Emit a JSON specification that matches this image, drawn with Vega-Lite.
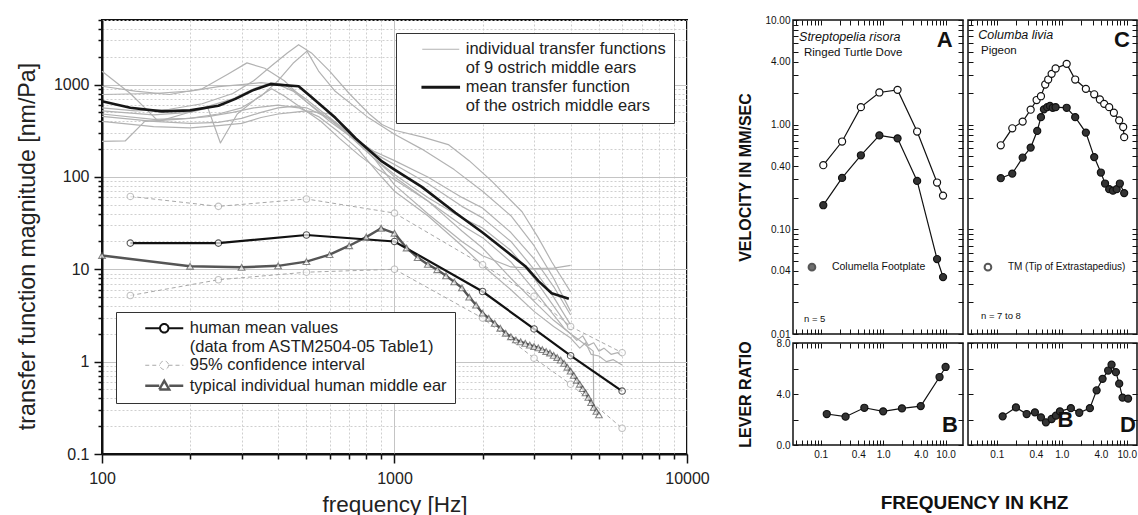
{
"$schema": "https://vega.github.io/schema/vega-lite/v6.json",
"background": "white",
"padding": {"left": 13, "top": 14, "right": 0, "bottom": 0},
"config": {"font": "Liberation Sans", "view": {"stroke": "#111", "strokeWidth": 1.5}, "axis": {"labelFont": "Liberation Sans", "titleFont": "Liberation Sans"}, "legend": {"labelFont": "Liberation Sans"}},
"datasets": {
"ostrich": [
{"id":"L1","g":"ind","f":100,"v":560},{"id":"L1","g":"ind","f":130,"v":520},{"id":"L1","g":"ind","f":170,"v":540},{"id":"L1","g":"ind","f":220,"v":620},{"id":"L1","g":"ind","f":280,"v":800},{"id":"L1","g":"ind","f":330,"v":1100},{"id":"L1","g":"ind","f":380,"v":1600},{"id":"L1","g":"ind","f":430,"v":2200},{"id":"L1","g":"ind","f":470,"v":2700},{"id":"L1","g":"ind","f":520,"v":2200},{"id":"L1","g":"ind","f":600,"v":1400},{"id":"L1","g":"ind","f":700,"v":800},{"id":"L1","g":"ind","f":820,"v":480},{"id":"L1","g":"ind","f":906,"v":369},{"id":"L1","g":"ind","f":1000,"v":320},{"id":"L1","g":"ind","f":1250,"v":270},{"id":"L1","g":"ind","f":1527,"v":224},{"id":"L1","g":"ind","f":1800,"v":150},{"id":"L1","g":"ind","f":2150,"v":90},{"id":"L1","g":"ind","f":2730,"v":42},{"id":"L1","g":"ind","f":3100,"v":22},{"id":"L1","g":"ind","f":3450,"v":12},{"id":"L1","g":"ind","f":4000,"v":5.7},
{"id":"L2","g":"ind","f":100,"v":480},{"id":"L2","g":"ind","f":150,"v":420},{"id":"L2","g":"ind","f":200,"v":430},{"id":"L2","g":"ind","f":250,"v":480},{"id":"L2","g":"ind","f":300,"v":560},{"id":"L2","g":"ind","f":350,"v":750},{"id":"L2","g":"ind","f":400,"v":1100},{"id":"L2","g":"ind","f":450,"v":1700},{"id":"L2","g":"ind","f":502,"v":2300},{"id":"L2","g":"ind","f":550,"v":1400},{"id":"L2","g":"ind","f":627,"v":846},{"id":"L2","g":"ind","f":816,"v":436},{"id":"L2","g":"ind","f":1000,"v":290},{"id":"L2","g":"ind","f":1240,"v":200},{"id":"L2","g":"ind","f":1600,"v":120},{"id":"L2","g":"ind","f":2000,"v":70},{"id":"L2","g":"ind","f":2500,"v":38},{"id":"L2","g":"ind","f":3000,"v":18},{"id":"L2","g":"ind","f":3500,"v":8},{"id":"L2","g":"ind","f":4000,"v":3.5},
{"id":"L3","g":"ind","f":100,"v":958},{"id":"L3","g":"ind","f":130,"v":850},{"id":"L3","g":"ind","f":170,"v":780},{"id":"L3","g":"ind","f":220,"v":900},{"id":"L3","g":"ind","f":270,"v":1300},{"id":"L3","g":"ind","f":313,"v":1717},{"id":"L3","g":"ind","f":360,"v":1500},{"id":"L3","g":"ind","f":420,"v":1100},{"id":"L3","g":"ind","f":500,"v":650},{"id":"L3","g":"ind","f":600,"v":400},{"id":"L3","g":"ind","f":700,"v":280},{"id":"L3","g":"ind","f":850,"v":190},{"id":"L3","g":"ind","f":1000,"v":150},{"id":"L3","g":"ind","f":1300,"v":100},{"id":"L3","g":"ind","f":1700,"v":60},{"id":"L3","g":"ind","f":2000,"v":46},{"id":"L3","g":"ind","f":2500,"v":25},{"id":"L3","g":"ind","f":3000,"v":13},{"id":"L3","g":"ind","f":3500,"v":6.5},{"id":"L3","g":"ind","f":4000,"v":3.2},
{"id":"L4","g":"ind","f":100,"v":1395},{"id":"L4","g":"ind","f":125,"v":800},{"id":"L4","g":"ind","f":156,"v":400},{"id":"L4","g":"ind","f":190,"v":480},{"id":"L4","g":"ind","f":230,"v":580},{"id":"L4","g":"ind","f":280,"v":700},{"id":"L4","g":"ind","f":330,"v":900},{"id":"L4","g":"ind","f":380,"v":1050},{"id":"L4","g":"ind","f":420,"v":1000},{"id":"L4","g":"ind","f":480,"v":760},{"id":"L4","g":"ind","f":560,"v":520},{"id":"L4","g":"ind","f":650,"v":360},{"id":"L4","g":"ind","f":750,"v":250},{"id":"L4","g":"ind","f":880,"v":170},{"id":"L4","g":"ind","f":1000,"v":136},{"id":"L4","g":"ind","f":1300,"v":85},{"id":"L4","g":"ind","f":1700,"v":48},{"id":"L4","g":"ind","f":2000,"v":36},{"id":"L4","g":"ind","f":2500,"v":20},{"id":"L4","g":"ind","f":3000,"v":10},{"id":"L4","g":"ind","f":3500,"v":5},{"id":"L4","g":"ind","f":4000,"v":2.5},
{"id":"L5","g":"ind","f":100,"v":520},{"id":"L5","g":"ind","f":150,"v":470},{"id":"L5","g":"ind","f":200,"v":500},{"id":"L5","g":"ind","f":230,"v":560},{"id":"L5","g":"ind","f":254,"v":233},{"id":"L5","g":"ind","f":290,"v":480},{"id":"L5","g":"ind","f":340,"v":720},{"id":"L5","g":"ind","f":380,"v":900},{"id":"L5","g":"ind","f":420,"v":750},{"id":"L5","g":"ind","f":480,"v":560},{"id":"L5","g":"ind","f":560,"v":400},{"id":"L5","g":"ind","f":650,"v":260},{"id":"L5","g":"ind","f":760,"v":170},{"id":"L5","g":"ind","f":880,"v":120},{"id":"L5","g":"ind","f":1000,"v":94},{"id":"L5","g":"ind","f":1300,"v":55},{"id":"L5","g":"ind","f":1700,"v":30},{"id":"L5","g":"ind","f":2000,"v":22},{"id":"L5","g":"ind","f":2500,"v":12},{"id":"L5","g":"ind","f":3000,"v":6},{"id":"L5","g":"ind","f":3500,"v":3.2},{"id":"L5","g":"ind","f":3800,"v":2.3},{"id":"L5","g":"ind","f":4000,"v":2.0},{"id":"L5","g":"ind","f":4200,"v":1.7},{"id":"L5","g":"ind","f":4400,"v":1.9},{"id":"L5","g":"ind","f":4600,"v":1.5},{"id":"L5","g":"ind","f":4800,"v":1.6},{"id":"L5","g":"ind","f":5000,"v":1.3},{"id":"L5","g":"ind","f":5200,"v":1.4},{"id":"L5","g":"ind","f":5500,"v":1.2},{"id":"L5","g":"ind","f":5800,"v":1.25},{"id":"L5","g":"ind","f":6000,"v":1.15},
{"id":"L6","g":"ind","f":100,"v":243},{"id":"L6","g":"ind","f":120,"v":245},{"id":"L6","g":"ind","f":140,"v":400},{"id":"L6","g":"ind","f":180,"v":420},{"id":"L6","g":"ind","f":230,"v":450},{"id":"L6","g":"ind","f":280,"v":500},{"id":"L6","g":"ind","f":330,"v":560},{"id":"L6","g":"ind","f":400,"v":600},{"id":"L6","g":"ind","f":470,"v":560},{"id":"L6","g":"ind","f":550,"v":450},{"id":"L6","g":"ind","f":650,"v":300},{"id":"L6","g":"ind","f":750,"v":200},{"id":"L6","g":"ind","f":880,"v":110},{"id":"L6","g":"ind","f":1000,"v":70},{"id":"L6","g":"ind","f":1300,"v":38},{"id":"L6","g":"ind","f":1700,"v":18},{"id":"L6","g":"ind","f":2000,"v":11},{"id":"L6","g":"ind","f":2500,"v":6},{"id":"L6","g":"ind","f":3000,"v":3.5},{"id":"L6","g":"ind","f":3500,"v":2.4},{"id":"L6","g":"ind","f":4000,"v":1.8},{"id":"L6","g":"ind","f":4300,"v":1.4},{"id":"L6","g":"ind","f":4500,"v":1.6},{"id":"L6","g":"ind","f":4700,"v":1.2},{"id":"L6","g":"ind","f":5000,"v":1.15},{"id":"L6","g":"ind","f":5300,"v":1.0},{"id":"L6","g":"ind","f":5600,"v":1.05},{"id":"L6","g":"ind","f":6000,"v":0.92},
{"id":"L7","g":"ind","f":100,"v":780},{"id":"L7","g":"ind","f":150,"v":800},{"id":"L7","g":"ind","f":200,"v":850},{"id":"L7","g":"ind","f":250,"v":950},{"id":"L7","g":"ind","f":300,"v":1000},{"id":"L7","g":"ind","f":350,"v":1050},{"id":"L7","g":"ind","f":400,"v":1000},{"id":"L7","g":"ind","f":450,"v":850},{"id":"L7","g":"ind","f":500,"v":650},{"id":"L7","g":"ind","f":600,"v":420},{"id":"L7","g":"ind","f":700,"v":280},{"id":"L7","g":"ind","f":850,"v":160},{"id":"L7","g":"ind","f":1000,"v":106},{"id":"L7","g":"ind","f":1300,"v":60},{"id":"L7","g":"ind","f":1700,"v":36},{"id":"L7","g":"ind","f":2000,"v":28},{"id":"L7","g":"ind","f":2500,"v":16},{"id":"L7","g":"ind","f":3000,"v":8},{"id":"L7","g":"ind","f":3500,"v":4},{"id":"L7","g":"ind","f":4000,"v":2.2},
{"id":"L8","g":"ind","f":100,"v":453},{"id":"L8","g":"ind","f":150,"v":400},{"id":"L8","g":"ind","f":200,"v":380},{"id":"L8","g":"ind","f":250,"v":390},{"id":"L8","g":"ind","f":300,"v":430},{"id":"L8","g":"ind","f":350,"v":500},{"id":"L8","g":"ind","f":400,"v":560},{"id":"L8","g":"ind","f":450,"v":580},{"id":"L8","g":"ind","f":500,"v":560},{"id":"L8","g":"ind","f":600,"v":430},{"id":"L8","g":"ind","f":700,"v":290},{"id":"L8","g":"ind","f":850,"v":160},{"id":"L8","g":"ind","f":1000,"v":100},{"id":"L8","g":"ind","f":1300,"v":55},{"id":"L8","g":"ind","f":1700,"v":26},{"id":"L8","g":"ind","f":2000,"v":17},{"id":"L8","g":"ind","f":2500,"v":8},{"id":"L8","g":"ind","f":3000,"v":4.5},{"id":"L8","g":"ind","f":3500,"v":2.8},{"id":"L8","g":"ind","f":4000,"v":2.0},{"id":"L8","g":"ind","f":4400,"v":1.6},{"id":"L8","g":"ind","f":4780,"v":1.3},{"id":"L8","g":"ind","f":4800,"v":0.31},
{"id":"L9","g":"ind","f":100,"v":400},{"id":"L9","g":"ind","f":150,"v":350},{"id":"L9","g":"ind","f":200,"v":340},{"id":"L9","g":"ind","f":250,"v":360},{"id":"L9","g":"ind","f":300,"v":380},{"id":"L9","g":"ind","f":350,"v":440},{"id":"L9","g":"ind","f":400,"v":480},{"id":"L9","g":"ind","f":450,"v":500},{"id":"L9","g":"ind","f":500,"v":520},{"id":"L9","g":"ind","f":600,"v":480},{"id":"L9","g":"ind","f":700,"v":320},{"id":"L9","g":"ind","f":850,"v":160},{"id":"L9","g":"ind","f":1000,"v":82},{"id":"L9","g":"ind","f":1300,"v":40},{"id":"L9","g":"ind","f":1700,"v":20},{"id":"L9","g":"ind","f":2000,"v":14},{"id":"L9","g":"ind","f":2500,"v":10.6},{"id":"L9","g":"ind","f":3000,"v":10.2},{"id":"L9","g":"ind","f":3500,"v":10.3},{"id":"L9","g":"ind","f":4000,"v":11},
{"id":"M","g":"mean","f":100,"v":660},{"id":"M","g":"mean","f":125,"v":560},{"id":"M","g":"mean","f":160,"v":512},{"id":"M","g":"mean","f":200,"v":525},{"id":"M","g":"mean","f":250,"v":590},{"id":"M","g":"mean","f":286,"v":700},{"id":"M","g":"mean","f":326,"v":860},{"id":"M","g":"mean","f":376,"v":1010},{"id":"M","g":"mean","f":470,"v":960},{"id":"M","g":"mean","f":515,"v":750},{"id":"M","g":"mean","f":628,"v":436},{"id":"M","g":"mean","f":734,"v":264},{"id":"M","g":"mean","f":906,"v":147},{"id":"M","g":"mean","f":1000,"v":120},{"id":"M","g":"mean","f":1240,"v":78},{"id":"M","g":"mean","f":1615,"v":41},{"id":"M","g":"mean","f":2000,"v":25},{"id":"M","g":"mean","f":2800,"v":10.8},{"id":"M","g":"mean","f":3113,"v":7.4},{"id":"M","g":"mean","f":3446,"v":5.5},{"id":"M","g":"mean","f":3945,"v":4.8}
],
"human": [
{"s":"hm","p":"m","f":125,"v":19.2},{"s":"hm","p":"m","f":250,"v":19.2},{"s":"hm","p":"m","f":500,"v":23.5},{"s":"hm","p":"m","f":1000,"v":20.0},{"s":"hm","p":"m","f":2000,"v":5.74},{"s":"hm","p":"m","f":3000,"v":2.26},{"s":"hm","p":"m","f":4000,"v":1.16},{"s":"hm","p":"m","f":6000,"v":0.48},
{"s":"ci","p":"u","f":125,"v":61.5},{"s":"ci","p":"u","f":250,"v":48},{"s":"ci","p":"u","f":500,"v":57.7},{"s":"ci","p":"u","f":1000,"v":40.6},{"s":"ci","p":"u","f":2000,"v":11.2},{"s":"ci","p":"u","f":3000,"v":5.1},{"s":"ci","p":"u","f":4000,"v":2.4},{"s":"ci","p":"u","f":6000,"v":1.25},
{"s":"ci","p":"l","f":125,"v":5.2},{"s":"ci","p":"l","f":250,"v":7.7},{"s":"ci","p":"l","f":500,"v":9.3},{"s":"ci","p":"l","f":1000,"v":10.0},{"s":"ci","p":"l","f":2000,"v":2.96},{"s":"ci","p":"l","f":3000,"v":1.09},{"s":"ci","p":"l","f":4000,"v":0.57},{"s":"ci","p":"l","f":6000,"v":0.19},
{"s":"ty","p":"t","f":100,"v":14.1},{"s":"ty","p":"t","f":200,"v":10.8},{"s":"ty","p":"t","f":300,"v":10.5},{"s":"ty","p":"t","f":400,"v":10.9},{"s":"ty","p":"t","f":500,"v":12.1},{"s":"ty","p":"t","f":600,"v":14.4},{"s":"ty","p":"t","f":700,"v":18.0},{"s":"ty","p":"t","f":800,"v":22.3},{"s":"ty","p":"t","f":900,"v":27.8},{"s":"ty","p":"t","f":1000,"v":24.6},{"s":"ty","p":"t","f":1100,"v":17.0},{"s":"ty","p":"t","f":1200,"v":13.4},{"s":"ty","p":"t","f":1300,"v":11.3},{"s":"ty","p":"t","f":1400,"v":9.9},{"s":"ty","p":"t","f":1500,"v":8.5},{"s":"ty","p":"t","f":1600,"v":7.3},{"s":"ty","p":"t","f":1700,"v":6.3},{"s":"ty","p":"t","f":1800,"v":5.0},{"s":"ty","p":"t","f":1900,"v":4.1},{"s":"ty","p":"t","f":2000,"v":3.35},{"s":"ty","p":"t","f":2100,"v":2.95},{"s":"ty","p":"t","f":2200,"v":2.6},{"s":"ty","p":"t","f":2300,"v":2.3},{"s":"ty","p":"t","f":2400,"v":2.03},{"s":"ty","p":"t","f":2500,"v":1.86},{"s":"ty","p":"t","f":2600,"v":1.72},{"s":"ty","p":"t","f":2700,"v":1.64},{"s":"ty","p":"t","f":2800,"v":1.58},{"s":"ty","p":"t","f":2900,"v":1.51},{"s":"ty","p":"t","f":3000,"v":1.46},{"s":"ty","p":"t","f":3100,"v":1.41},{"s":"ty","p":"t","f":3200,"v":1.35},{"s":"ty","p":"t","f":3300,"v":1.29},{"s":"ty","p":"t","f":3400,"v":1.24},{"s":"ty","p":"t","f":3500,"v":1.17},{"s":"ty","p":"t","f":3600,"v":1.11},{"s":"ty","p":"t","f":3700,"v":1.04},{"s":"ty","p":"t","f":3800,"v":0.96},{"s":"ty","p":"t","f":3900,"v":0.87},{"s":"ty","p":"t","f":4000,"v":0.79},{"s":"ty","p":"t","f":4100,"v":0.71},{"s":"ty","p":"t","f":4200,"v":0.63},{"s":"ty","p":"t","f":4300,"v":0.57},{"s":"ty","p":"t","f":4400,"v":0.51},{"s":"ty","p":"t","f":4500,"v":0.46},{"s":"ty","p":"t","f":4600,"v":0.41},{"s":"ty","p":"t","f":4700,"v":0.36},{"s":"ty","p":"t","f":4800,"v":0.32},{"s":"ty","p":"t","f":4900,"v":0.29},{"s":"ty","p":"t","f":5000,"v":0.265}
]
},
"hconcat": [
{
"width": 585, "height": 434,
"view": {"stroke": "#111", "strokeWidth": 2},
"encoding": {
"x": {"field": "f", "type": "quantitative", "scale": {"type": "log", "domain": [100, 10000], "nice": false},
 "axis": {"values": [100,200,300,400,500,600,700,800,900,1000,2000,3000,4000,5000,6000,7000,8000,9000,10000],
  "labelExpr": "datum.value == 100 || datum.value == 1000 || datum.value == 10000 ? format(datum.value, 'd') : ''",
  "labelOverlap": false, "labelFlush": false, "labelColor": "#222", "labelPadding": 7,
  "labelFontSize": {"condition": {"test": "datum.value == 100 || datum.value == 1000 || datum.value == 10000", "value": 16}, "value": 0},
  "tickSize": {"condition": {"test": "datum.value == 100 || datum.value == 1000 || datum.value == 10000", "value": 9}, "value": 5},
  "tickColor": "#111", "tickWidth": 1.5, "domainColor": "#111", "domainWidth": 2,
  "grid": true,
  "gridColor": {"condition": {"test": "datum.value == 100 || datum.value == 1000 || datum.value == 10000", "value": "#c4c4c4"}, "value": "#cfcfcf"},
  "gridDash": {"condition": {"test": "datum.value == 100 || datum.value == 1000 || datum.value == 10000", "value": []}, "value": [2, 2]},
  "title": "frequency [Hz]", "titleFontSize": 22.5, "titleFontWeight": "normal", "titleColor": "#222", "titleY": 57, "titleBaseline": "alphabetic"}},
"y": {"field": "v", "type": "quantitative", "scale": {"type": "log", "domain": [0.1, 5000], "nice": false},
 "axis": {"values": [0.1,0.2,0.3,0.4,0.5,0.6,0.7,0.8,0.9,1,2,3,4,5,6,7,8,9,10,20,30,40,50,60,70,80,90,100,200,300,400,500,600,700,800,900,1000,2000,3000,4000,5000],
  "labelExpr": "indexof([0.1,1,10,100,1000], datum.value) >= 0 ? format(datum.value, '~g') : ''",
  "labelOverlap": false, "labelFlush": false, "labelColor": "#222", "labelPadding": 5,
  "labelFontSize": {"condition": {"test": "indexof([0.1,1,10,100,1000], datum.value) >= 0", "value": 16}, "value": 0},
  "tickSize": {"condition": {"test": "indexof([0.1,1,10,100,1000], datum.value) >= 0", "value": 8}, "value": 4},
  "tickColor": "#111", "tickWidth": 1.5, "domainColor": "#111", "domainWidth": 2,
  "grid": true,
  "gridColor": {"condition": {"test": "indexof([0.1,1,10,100,1000], datum.value) >= 0", "value": "#c4c4c4"}, "value": "#cfcfcf"},
  "gridDash": {"condition": {"test": "indexof([0.1,1,10,100,1000], datum.value) >= 0", "value": []}, "value": [2, 2]},
  "title": "transfer function magnitude [nm/Pa]", "titleFontSize": 23.2, "titleFontWeight": "normal", "titleColor": "#222", "titleX": -75, "titleY": 226, "titleBaseline": "middle"}}
},
"layer": [
{"data": {"name": "ostrich"}, "transform": [{"filter": "datum.g == 'ind'"}], "mark": {"type": "line", "stroke": "#b2b2b2", "strokeWidth": 1.2, "strokeJoin": "round"}, "encoding": {"detail": {"field": "id"}}},
{"data": {"name": "ostrich"}, "transform": [{"filter": "datum.g == 'mean'"}], "mark": {"type": "line", "stroke": "#161616", "strokeWidth": 2.6, "strokeJoin": "round"}, "encoding": {}},
{"data": {"name": "human"}, "transform": [{"filter": "datum.s == 'ci'"}], "mark": {"type": "line", "stroke": "#a8a8a8", "strokeWidth": 1, "strokeDash": [4, 3]}, "encoding": {"detail": {"field": "p"}}},
{"data": {"name": "human"}, "transform": [{"filter": "datum.s == 'ty'"}], "mark": {"type": "line", "stroke": "#555555", "strokeWidth": 2.4}, "encoding": {}},
{"data": {"name": "human"}, "transform": [{"filter": "datum.s == 'hm'"}], "mark": {"type": "line", "stroke": "#111111", "strokeWidth": 2.2}, "encoding": {}},
{"data": {"name": "human"}, "transform": [{"filter": "datum.s != 'ty'"}],
 "mark": {"type": "point", "shape": "circle", "size": 42, "filled": true, "fill": "white", "strokeWidth": 1.1},
 "encoding": {"stroke": {"condition": {"test": "datum.s == 'ci'", "value": "#a8a8a8"}, "value": "#111"}}},
{"data": {"name": "human"}, "transform": [{"filter": "datum.s == 'ty'"}],
 "mark": {"type": "point", "shape": "triangle-up", "size": 45, "filled": true, "fill": "white", "stroke": "#555", "strokeWidth": 1.1}},
{"data": {"name": "ostrich"}, "transform": [{"filter": "false"}], "mark": {"type": "line"},
 "encoding": {
  "stroke": {"field": "g", "type": "nominal", "scale": {"domain": ["ind","ind2","mean","mean2"], "range": ["#b2b2b2","rgba(0,0,0,0)","#161616","rgba(0,0,0,0)"]},
   "legend": {"title": null, "orient": "none", "legendX": 294, "legendY": 13, "symbolSize": 100,
    "symbolType": {"expr": "datum.value == 'mean' ? 'M-3.7,-0.13L3.7,-0.13L3.7,0.13L-3.7,0.13Z' : 'M-3.7,0L3.7,0'"},
    "symbolStrokeWidth": {"expr": "datum.value == 'mean' ? 1.6 : 1.2"},
    "symbolOffset": 28.5, "labelOffset": 16.75, "rowPadding": 2, "padding": 8, "labelFontSize": 16.5, "labelColor": "#222", "labelLimit": 600, "fillColor": "white", "strokeColor": "#333",
    "labelExpr": "datum.value == 'ind' ? 'individual transfer functions\u00a0\u00a0\u00a0\u00a0' : datum.value == 'ind2' ? 'of 9 ostrich middle ears' : datum.value == 'mean' ? 'mean transfer function' : 'of the ostrich middle ears'"}}
 }},
{"data": {"name": "human"}, "transform": [{"filter": "false"}], "mark": {"type": "line"},
 "encoding": {
  "stroke": {"field": "s", "type": "nominal", "scale": {"domain": ["hm","hm2","ci","ty"], "range": ["#111111","rgba(0,0,0,0)","#a8a8a8","#555555"]},
   "legend": {"title": null, "orient": "none", "legendX": 14, "legendY": 292, "symbolSize": 100,
    "symbolType": {"expr": "datum.value == 'ty' ? 'M-3.8,0L-1,0M1,0L3.8,0M1,0.75L-1,0.75L0,-1L1,0.75Z' : 'M-3.8,0L-0.85,0M0.85,0L3.8,0M0.85,0A0.85,0.85,0,1,1,-0.85,0A0.85,0.85,0,1,1,0.85,0Z'"},
    "symbolDash": {"expr": "datum.value == 'ci' ? [4,3] : [1,0]"},
    "symbolStrokeWidth": {"expr": "datum.value == 'ty' ? 2.4 : datum.value == 'ci' ? 1 : 2"},
    "symbolFillColor": "white",
    "symbolOffset": 32, "labelOffset": 17.25, "rowPadding": 1.5, "padding": 8, "labelFontSize": 16.5, "labelColor": "#222", "labelLimit": 600, "fillColor": "white", "strokeColor": "#333",
    "labelExpr": "datum.value == 'hm' ? 'human mean values' : datum.value == 'hm2' ? '(data from ASTM2504-05 Table1)\u00a0\u00a0' : datum.value == 'ci' ? '95% confidence interval' : 'typical individual human middle ear\u00a0\u00a0'"}}
 }}
],
"resolve": {"scale": {"stroke": "independent"}}
},
{
"concat": [
{"width": 170, "height": 314,
 "layer": [
  {"data": {"values": [{"f":0.11,"v":0.41},{"f":0.22,"v":0.69},{"f":0.44,"v":1.47},{"f":0.87,"v":2.03},{"f":1.7,"v":2.15},{"f":3.5,"v":0.86},{"f":7.3,"v":0.28},{"f":9.1,"v":0.21}]},
   "mark": {"type": "line", "color": "#111", "strokeWidth": 1.2, "point": {"filled": true, "fill": "white", "stroke": "#111", "strokeWidth": 1.2, "size": 50}},
   "encoding": {"x": {"field": "f", "type": "quantitative", "scale": {"type": "log", "domain": [0.036, 19], "nice": false}, "axis": {"orient": "bottom", "values": [0.04,0.05,0.06,0.07,0.08,0.09,0.1,0.2,0.3,0.4,0.5,0.6,0.7,0.8,0.9,1,2,3,4,5,6,7,8,9,10], "labels": false, "tickSize": -5, "tickColor": "#111", "domain": false, "grid": false, "title": null}},
    "y": {"field": "v", "type": "quantitative", "scale": {"type": "log", "domain": [0.01, 10], "nice": false}, "axis": {"orient": "left", "values": [0.01,0.02,0.03,0.04,0.05,0.06,0.07,0.08,0.09,0.1,0.2,0.3,0.4,0.5,0.6,0.7,0.8,0.9,1,2,3,4,5,6,7,8,9,10], "labelExpr": "indexof([0.01,0.04,0.1,0.4,1,4,10], datum.value) >= 0 ? format(datum.value, '.2f') : ''", "labelOverlap": false, "labelFlush": false, "labelFontSize": 10, "labelColor": "#111", "labelPadding": 8, "tickSize": -5, "tickColor": "#111", "domain": false, "grid": false, "title": "VELOCITY IN MM/SEC", "titleFontSize": 16, "titleFontWeight": "bold", "titleColor": "#111", "titleX": -48, "titleBaseline": "middle"}}}},
  {"data": {"values": [{"f":0.11,"v":0.17},{"f":0.22,"v":0.31},{"f":0.44,"v":0.51},{"f":0.87,"v":0.79},{"f":1.7,"v":0.74},{"f":3.5,"v":0.29},{"f":7.3,"v":0.052},{"f":9.1,"v":0.035}]},
   "mark": {"type": "line", "color": "#111", "strokeWidth": 1.2, "point": {"filled": true, "fill": "#333", "stroke": "#111", "strokeWidth": 1.2, "size": 50}},
   "encoding": {"x": {"field": "f", "type": "quantitative", "scale": {"type": "log", "domain": [0.036, 19], "nice": false}, "axis": {"orient": "top", "values": [0.04,0.05,0.06,0.07,0.08,0.09,0.1,0.2,0.3,0.4,0.5,0.6,0.7,0.8,0.9,1,2,3,4,5,6,7,8,9,10], "labels": false, "tickSize": -5, "tickColor": "#111", "domain": false, "grid": false, "title": null}},
    "y": {"field": "v", "type": "quantitative", "scale": {"type": "log", "domain": [0.01, 10], "nice": false}, "axis": {"orient": "right", "values": [0.01,0.02,0.03,0.04,0.05,0.06,0.07,0.08,0.09,0.1,0.2,0.3,0.4,0.5,0.6,0.7,0.8,0.9,1,2,3,4,5,6,7,8,9,10], "labels": false, "tickSize": -5, "tickColor": "#111", "domain": false, "grid": false, "title": null}}}},
  {"data": {"values": [{"f":0.045,"v":6.9,"t":"Streptopelia risora"}]}, "mark": {"type": "text", "align": "left", "baseline": "middle", "fontSize": 12.5, "fontStyle": "italic", "color": "#111"},
   "encoding": {"x": {"field": "f", "type": "quantitative", "scale": {"type": "log", "domain": [0.036, 19], "nice": false}, "axis": null}, "y": {"field": "v", "type": "quantitative", "scale": {"type": "log", "domain": [0.01, 10], "nice": false}, "axis": null}, "text": {"field": "t"}}},
  {"data": {"values": [{"f":0.054,"v":4.85,"t":"Ringed Turtle Dove"}]}, "mark": {"type": "text", "align": "left", "baseline": "middle", "fontSize": 11.5, "color": "#111"},
   "encoding": {"x": {"field": "f", "type": "quantitative", "scale": {"type": "log", "domain": [0.036, 19], "nice": false}, "axis": null}, "y": {"field": "v", "type": "quantitative", "scale": {"type": "log", "domain": [0.01, 10], "nice": false}, "axis": null}, "text": {"field": "t"}}},
  {"data": {"values": [{"f":13,"v":6.45,"t":"A"}]}, "mark": {"type": "text", "align": "right", "baseline": "middle", "fontSize": 22, "fontWeight": "bold", "color": "#111"},
   "encoding": {"x": {"field": "f", "type": "quantitative", "scale": {"type": "log", "domain": [0.036, 19], "nice": false}, "axis": null}, "y": {"field": "v", "type": "quantitative", "scale": {"type": "log", "domain": [0.01, 10], "nice": false}, "axis": null}, "text": {"field": "t"}}},
  {"data": {"values": [{"f":0.151,"v":0.0435,"t":"Columella Footplate"}]}, "mark": {"type": "text", "align": "left", "baseline": "middle", "fontSize": 10.5, "color": "#111"},
   "encoding": {"x": {"field": "f", "type": "quantitative", "scale": {"type": "log", "domain": [0.036, 19], "nice": false}, "axis": null}, "y": {"field": "v", "type": "quantitative", "scale": {"type": "log", "domain": [0.01, 10], "nice": false}, "axis": null}, "text": {"field": "t"}}},
  {"data": {"values": [{"f":0.054,"v":0.0139,"t":"n = 5"}]}, "mark": {"type": "text", "align": "left", "baseline": "middle", "fontSize": 9.5, "color": "#111"},
   "encoding": {"x": {"field": "f", "type": "quantitative", "scale": {"type": "log", "domain": [0.036, 19], "nice": false}, "axis": null}, "y": {"field": "v", "type": "quantitative", "scale": {"type": "log", "domain": [0.01, 10], "nice": false}, "axis": null}, "text": {"field": "t"}}},
  {"data": {"values": [{"f":0.0724,"v":0.0435}]}, "mark": {"type": "point", "shape": "circle", "filled": true, "fill": "#333", "stroke": "#111", "size": 45},
   "encoding": {"x": {"field": "f", "type": "quantitative", "scale": {"type": "log", "domain": [0.036, 19], "nice": false}, "axis": null}, "y": {"field": "v", "type": "quantitative", "scale": {"type": "log", "domain": [0.01, 10], "nice": false}, "axis": null}}}
 ],
 "resolve": {"axis": {"x": "independent", "y": "independent"}}
},
{"width": 169, "height": 314,
 "layer": [
  {"data": {"values": [{"f":0.115,"v":0.635},{"f":0.173,"v":0.923},{"f":0.25,"v":1.07},{"f":0.332,"v":1.39},{"f":0.41,"v":1.72},{"f":0.478,"v":1.87},{"f":0.556,"v":2.42},{"f":0.618,"v":2.70},{"f":0.698,"v":3.06},{"f":0.804,"v":3.44},{"f":1.19,"v":3.81},{"f":1.61,"v":2.70},{"f":2.35,"v":2.20},{"f":3.16,"v":1.95},{"f":3.86,"v":1.74},{"f":4.5,"v":1.58},{"f":5.37,"v":1.47},{"f":6.34,"v":1.30},{"f":7.65,"v":1.10},{"f":8.82,"v":0.95},{"f":9.14,"v":0.76}]},
   "mark": {"type": "line", "color": "#111", "strokeWidth": 1.2, "point": {"filled": true, "fill": "white", "stroke": "#111", "strokeWidth": 1.2, "size": 50}},
   "encoding": {"x": {"field": "f", "type": "quantitative", "scale": {"type": "log", "domain": [0.036, 14.4], "nice": false}, "axis": {"orient": "bottom", "values": [0.04,0.05,0.06,0.07,0.08,0.09,0.1,0.2,0.3,0.4,0.5,0.6,0.7,0.8,0.9,1,2,3,4,5,6,7,8,9,10], "labels": false, "tickSize": -5, "tickColor": "#111", "domain": false, "grid": false, "title": null}},
    "y": {"field": "v", "type": "quantitative", "scale": {"type": "log", "domain": [0.01, 10], "nice": false}, "axis": {"orient": "left", "values": [0.01,0.02,0.03,0.04,0.05,0.06,0.07,0.08,0.09,0.1,0.2,0.3,0.4,0.5,0.6,0.7,0.8,0.9,1,2,3,4,5,6,7,8,9,10], "labels": false, "tickSize": -5, "tickColor": "#111", "domain": false, "grid": false, "title": null}}}},
  {"data": {"values": [{"f":0.115,"v":0.308},{"f":0.173,"v":0.341},{"f":0.25,"v":0.485},{"f":0.332,"v":0.604},{"f":0.419,"v":0.871},{"f":0.478,"v":1.18},{"f":0.531,"v":1.40},{"f":0.598,"v":1.47},{"f":0.658,"v":1.51},{"f":0.726,"v":1.45},{"f":0.804,"v":1.47},{"f":1.19,"v":1.45},{"f":1.61,"v":1.18},{"f":2.35,"v":0.84},{"f":3.16,"v":0.49},{"f":4.0,"v":0.349},{"f":4.64,"v":0.274},{"f":5.37,"v":0.242},{"f":6.14,"v":0.234},{"f":7.0,"v":0.242},{"f":7.84,"v":0.274},{"f":9.14,"v":0.222}]},
   "mark": {"type": "line", "color": "#111", "strokeWidth": 1.2, "point": {"filled": true, "fill": "#333", "stroke": "#111", "strokeWidth": 1.2, "size": 50}},
   "encoding": {"x": {"field": "f", "type": "quantitative", "scale": {"type": "log", "domain": [0.036, 14.4], "nice": false}, "axis": {"orient": "top", "values": [0.04,0.05,0.06,0.07,0.08,0.09,0.1,0.2,0.3,0.4,0.5,0.6,0.7,0.8,0.9,1,2,3,4,5,6,7,8,9,10], "labels": false, "tickSize": -5, "tickColor": "#111", "domain": false, "grid": false, "title": null}},
    "y": {"field": "v", "type": "quantitative", "scale": {"type": "log", "domain": [0.01, 10], "nice": false}, "axis": {"orient": "right", "values": [0.01,0.02,0.03,0.04,0.05,0.06,0.07,0.08,0.09,0.1,0.2,0.3,0.4,0.5,0.6,0.7,0.8,0.9,1,2,3,4,5,6,7,8,9,10], "labels": false, "tickSize": -5, "tickColor": "#111", "domain": false, "grid": false, "title": null}}}},
  {"data": {"values": [{"f":0.0518,"v":7.2,"t":"Columba livia"}]}, "mark": {"type": "text", "align": "left", "baseline": "middle", "fontSize": 12.5, "fontStyle": "italic", "color": "#111"},
   "encoding": {"x": {"field": "f", "type": "quantitative", "scale": {"type": "log", "domain": [0.036, 14.4], "nice": false}, "axis": null}, "y": {"field": "v", "type": "quantitative", "scale": {"type": "log", "domain": [0.01, 10], "nice": false}, "axis": null}, "text": {"field": "t"}}},
  {"data": {"values": [{"f":0.057,"v":5.07,"t":"Pigeon"}]}, "mark": {"type": "text", "align": "left", "baseline": "middle", "fontSize": 11.5, "color": "#111"},
   "encoding": {"x": {"field": "f", "type": "quantitative", "scale": {"type": "log", "domain": [0.036, 14.4], "nice": false}, "axis": null}, "y": {"field": "v", "type": "quantitative", "scale": {"type": "log", "domain": [0.01, 10], "nice": false}, "axis": null}, "text": {"field": "t"}}},
  {"data": {"values": [{"f":11.2,"v":6.45,"t":"C"}]}, "mark": {"type": "text", "align": "right", "baseline": "middle", "fontSize": 22, "fontWeight": "bold", "color": "#111"},
   "encoding": {"x": {"field": "f", "type": "quantitative", "scale": {"type": "log", "domain": [0.036, 14.4], "nice": false}, "axis": null}, "y": {"field": "v", "type": "quantitative", "scale": {"type": "log", "domain": [0.01, 10], "nice": false}, "axis": null}, "text": {"field": "t"}}},
  {"data": {"values": [{"f":0.148,"v":0.0435,"t":"TM (Tip of Extrastapedius)"}]}, "mark": {"type": "text", "align": "left", "baseline": "middle", "fontSize": 10, "color": "#111"},
   "encoding": {"x": {"field": "f", "type": "quantitative", "scale": {"type": "log", "domain": [0.036, 14.4], "nice": false}, "axis": null}, "y": {"field": "v", "type": "quantitative", "scale": {"type": "log", "domain": [0.01, 10], "nice": false}, "axis": null}, "text": {"field": "t"}}},
  {"data": {"values": [{"f":0.057,"v":0.0148,"t":"n = 7  to 8"}]}, "mark": {"type": "text", "align": "left", "baseline": "middle", "fontSize": 9.5, "color": "#111"},
   "encoding": {"x": {"field": "f", "type": "quantitative", "scale": {"type": "log", "domain": [0.036, 14.4], "nice": false}, "axis": null}, "y": {"field": "v", "type": "quantitative", "scale": {"type": "log", "domain": [0.01, 10], "nice": false}, "axis": null}, "text": {"field": "t"}}},
  {"data": {"values": [{"f":0.073,"v":0.0435}]}, "mark": {"type": "point", "shape": "circle", "filled": true, "fill": "white", "stroke": "#111", "size": 45},
   "encoding": {"x": {"field": "f", "type": "quantitative", "scale": {"type": "log", "domain": [0.036, 14.4], "nice": false}, "axis": null}, "y": {"field": "v", "type": "quantitative", "scale": {"type": "log", "domain": [0.01, 10], "nice": false}, "axis": null}}}
 ],
 "resolve": {"axis": {"x": "independent", "y": "independent"}}
},
{"width": 170, "height": 102,
 "layer": [
  {"data": {"values": [{"f":0.125,"v":2.43},{"f":0.25,"v":2.22},{"f":0.5,"v":2.92},{"f":1,"v":2.64},{"f":2,"v":2.87},{"f":4,"v":3.05},{"f":8,"v":5.33},{"f":10,"v":6.12}]},
   "mark": {"type": "line", "color": "#111", "strokeWidth": 1.2, "point": {"filled": true, "fill": "#333", "stroke": "#111", "strokeWidth": 1.2, "size": 50}},
   "encoding": {"x": {"field": "f", "type": "quantitative", "scale": {"type": "log", "domain": [0.036, 19], "nice": false}, "axis": {"orient": "bottom", "values": [0.04,0.05,0.06,0.07,0.08,0.09,0.1,0.2,0.3,0.4,0.5,0.6,0.7,0.8,0.9,1,2,3,4,5,6,7,8,9,10], "labelExpr": "indexof([0.1,0.4,1,4,10], datum.value) >= 0 ? format(datum.value, '.1f') : ''", "labelOverlap": false, "labelFlush": false, "labelFontSize": 10, "labelColor": "#111", "labelPadding": 9, "tickSize": -5, "tickColor": "#111", "domain": false, "grid": false, "title": "FREQUENCY IN KHZ", "titleFontSize": 19, "titleFontWeight": "bold", "titleColor": "#111", "titleX": 181, "titleY": 57, "titleBaseline": "middle"}},
    "y": {"field": "v", "type": "quantitative", "scale": {"domain": [0, 8], "nice": false, "zero": false}, "axis": {"orient": "left", "values": [0,2,4,6,8], "labelExpr": "datum.value % 4 == 0 ? format(datum.value, '.1f') : ''", "labelOverlap": false, "labelFlush": false, "labelFontSize": 10, "labelColor": "#111", "labelPadding": 8, "tickSize": -5, "tickColor": "#111", "domain": false, "grid": false, "title": "LEVER RATIO", "titleFontSize": 16, "titleFontWeight": "bold", "titleColor": "#111", "titleX": -48, "titleBaseline": "middle"}}}},
  {"data": {"values": [{"f":15.8,"v":1.55,"t":"B"}]}, "mark": {"type": "text", "align": "right", "baseline": "middle", "fontSize": 22, "fontWeight": "bold", "color": "#111"},
   "encoding": {"x": {"field": "f", "type": "quantitative", "scale": {"type": "log", "domain": [0.036, 19], "nice": false}, "axis": {"orient": "top", "values": [0.04,0.05,0.06,0.07,0.08,0.09,0.1,0.2,0.3,0.4,0.5,0.6,0.7,0.8,0.9,1,2,3,4,5,6,7,8,9,10], "labels": false, "tickSize": -5, "tickColor": "#111", "domain": false, "grid": false, "title": null}},
    "y": {"field": "v", "type": "quantitative", "scale": {"domain": [0, 8], "nice": false, "zero": false}, "axis": {"orient": "right", "values": [0,2,4,6,8], "labels": false, "tickSize": -5, "tickColor": "#111", "domain": false, "grid": false, "title": null}}, "text": {"field": "t"}}}
 ],
 "resolve": {"axis": {"x": "independent", "y": "independent"}}
},
{"width": 169, "height": 102,
 "layer": [
  {"data": {"values": [{"f":0.123,"v":2.25},{"f":0.197,"v":2.95},{"f":0.288,"v":2.43},{"f":0.386,"v":2.56},{"f":0.478,"v":2.17},{"f":0.57,"v":1.78},{"f":0.698,"v":2.04},{"f":0.813,"v":2.30},{"f":0.936,"v":2.64},{"f":1.38,"v":2.89},{"f":1.86,"v":2.53},{"f":2.71,"v":2.89},{"f":3.44,"v":4.29},{"f":4.25,"v":5.19},{"f":5.18,"v":5.84},{"f":5.84,"v":6.30},{"f":6.81,"v":5.71},{"f":7.66,"v":4.81},{"f":8.63,"v":3.72},{"f":10.5,"v":3.64}]},
   "mark": {"type": "line", "color": "#111", "strokeWidth": 1.2, "point": {"filled": true, "fill": "#333", "stroke": "#111", "strokeWidth": 1.2, "size": 50}},
   "encoding": {"x": {"field": "f", "type": "quantitative", "scale": {"type": "log", "domain": [0.036, 14.4], "nice": false}, "axis": {"orient": "bottom", "values": [0.04,0.05,0.06,0.07,0.08,0.09,0.1,0.2,0.3,0.4,0.5,0.6,0.7,0.8,0.9,1,2,3,4,5,6,7,8,9,10], "labelExpr": "indexof([0.1,0.4,1,4,10], datum.value) >= 0 ? format(datum.value, '.1f') : ''", "labelOverlap": false, "labelFlush": false, "labelFontSize": 10, "labelColor": "#111", "labelPadding": 9, "tickSize": -5, "tickColor": "#111", "domain": false, "grid": false, "title": null}},
    "y": {"field": "v", "type": "quantitative", "scale": {"domain": [0, 8], "nice": false, "zero": false}, "axis": {"orient": "left", "values": [0,2,4,6,8], "labels": false, "tickSize": -5, "tickColor": "#111", "domain": false, "grid": false, "title": null}}}},
  {"data": {"values": [{"f":13.8,"v":1.55,"t":"D"}]}, "mark": {"type": "text", "align": "right", "baseline": "middle", "fontSize": 22, "fontWeight": "bold", "color": "#111"},
   "encoding": {"x": {"field": "f", "type": "quantitative", "scale": {"type": "log", "domain": [0.036, 14.4], "nice": false}, "axis": {"orient": "top", "values": [0.04,0.05,0.06,0.07,0.08,0.09,0.1,0.2,0.3,0.4,0.5,0.6,0.7,0.8,0.9,1,2,3,4,5,6,7,8,9,10], "labels": false, "tickSize": -5, "tickColor": "#111", "domain": false, "grid": false, "title": null}},
    "y": {"field": "v", "type": "quantitative", "scale": {"domain": [0, 8], "nice": false, "zero": false}, "axis": {"orient": "right", "values": [0,2,4,6,8], "labels": false, "tickSize": -5, "tickColor": "#111", "domain": false, "grid": false, "title": null}}, "text": {"field": "t"}}},
  {"data": {"values": [{"f":1.14,"v":1.94,"t":"B"}]}, "mark": {"type": "text", "align": "center", "baseline": "middle", "fontSize": 22, "fontWeight": "bold", "color": "#111"},
   "encoding": {"x": {"field": "f", "type": "quantitative", "scale": {"type": "log", "domain": [0.036, 14.4], "nice": false}, "axis": null}, "y": {"field": "v", "type": "quantitative", "scale": {"domain": [0, 8], "nice": false, "zero": false}, "axis": null}, "text": {"field": "t"}}}
 ],
 "resolve": {"axis": {"x": "independent", "y": "independent"}}
}
],
"columns": 2,
"spacing": {"row": 9, "column": 5},
"bounds": "flush"
}
],
"spacing": 25
}
